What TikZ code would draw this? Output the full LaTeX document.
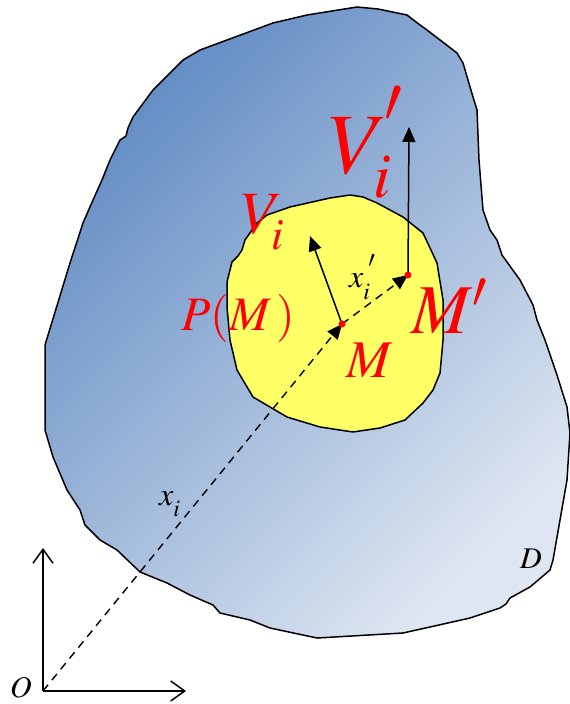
\documentclass[tikz,border=0pt]{standalone}
\usepackage{mathptmx}
\usetikzlibrary{arrows.meta}

\definecolor{regionDark}{RGB}{98,140,196}
\definecolor{regionLight}{RGB}{222,230,241}
\definecolor{subYellow}{RGB}{255,255,102}

\begin{document}
\begin{tikzpicture}[x=1pt, y=-1pt,
  >={Triangle[length=15pt,width=13pt]},
  outline/.style={draw=black, line width=1.5pt, line join=round},
  redlbl/.style={text=red, inner sep=0pt, anchor=base west},
  blklbl/.style={text=black, inner sep=0pt, anchor=base west},
  vec/.style={->, line width=1.5pt},
  ray/.style={->, line width=1.4pt, dash pattern=on 8pt off 6pt},
  axis/.style={-{Straight Barb[length=14pt,width=20pt,line width=1.5pt]}, line width=1.8pt}
]
  \useasboundingbox (0,0) rectangle (570,704);

  % region D
  \path[outline, top color=regionDark, bottom color=regionLight, shading angle=45]
    (357,7) -- (378,9) -- (407,15) -- (420,25) -- (427,30) -- (457,53) -- (463,63)
    -- (473,97) -- (477,110) -- (479,160) -- (483,210) -- (490,230) -- (497,240)
    -- (502,255) -- (520,280) -- (533,305) -- (537,320) -- (545,340) -- (557,375)
    -- (567,407) -- (570,433) -- (567,480) -- (560,520) -- (553,560) -- (550,570)
    -- (530,587) -- (510,598) -- (506,604) -- (500,608) -- (470,618) -- (430,627)
    -- (403,633) -- (317,638) -- (270,628) -- (250,620) -- (220,613) -- (213,605)
    -- (190,595) -- (167,583) -- (140,572) -- (117,550) -- (100,540) -- (85,525)
    -- (80,510) -- (67,490) -- (53,457) -- (45,430) -- (45,345) -- (70,263)
    -- (83,223) -- (93,200) -- (102,180) -- (110,160) -- (120,140) -- (126,136)
    -- (128,128) -- (133,117) -- (153,90) -- (183,60) -- (200,50) -- (273,23)
    -- (307,15) -- cycle;

  % sub-region
  \path[outline, fill=subYellow]
    (350,195) -- (363,197) -- (377,203) -- (403,217) -- (423,233) -- (437,263)
    -- (443,300) -- (443,340) -- (440,373) -- (433,390) -- (423,403) -- (405,420)
    -- (380,428) -- (353,432) -- (320,427) -- (287,417) -- (253,397) -- (237,370)
    -- (230,340) -- (227,307) -- (227,282) -- (232,262) -- (238,256) -- (242,250)
    -- (245,240) -- (257,223) -- (267,215) -- (290,207) -- (330,198) -- cycle;

  \coordinate (O) at (43,691);
  \coordinate (Oy) at (43,548);
  \coordinate (Ox) at (186,691);
  \coordinate (M) at (342,324);
  \coordinate (Mp) at (408,275);
  \coordinate (Vi) at (310,236);
  \coordinate (Vip) at (409,127);

  \draw[ray] (O) -- (M);
  \draw[ray] (M) -- (Mp);
  \draw[vec] (M) -- (Vi);
  \draw[vec] (Mp) -- (Vip);
  \draw[axis] (O) -- (Oy);
  \draw[axis] (O) -- (Ox);
  \fill[red] (M) circle (3.5pt);
  \fill[red] (Mp) circle (3.5pt);

  \node[redlbl, font=\fontsize{86}{88}\selectfont] (lVip) at (329,173)
    {$V_{\lower0.04em\hbox{$\scriptstyle i$}}^{\kern-0.04em\raise0.24em\hbox{$\scriptstyle\prime$}}$};
  \node[redlbl, font=\fontsize{60}{62}\selectfont] (lVi) at (241,233)
    {$V_{\lower0.12em\hbox{$\scriptstyle i$}}$};
  \node[redlbl, font=\fontsize{48}{50}\selectfont] (lP) at (181,330) {$P(M\,)$};
  \node[redlbl, font=\fontsize{53}{55}\selectfont] (lM) at (346,377) {$M$};
  \node[redlbl, font=\fontsize{70}{72}\selectfont] (lMp) at (411,333) {$M'$};
  \node[blklbl, font=\fontsize{32}{34}\selectfont] (lxp) at (349,287)
    {$x_{\lower0.15em\hbox{$\scriptstyle i$}}^{\kern0.15em\raise0.25em\hbox{$\scriptstyle\prime$}}$};
  \node[blklbl, font=\fontsize{32}{34}\selectfont] (lx) at (159,505)
    {$x_{\lower0.2em\hbox{$\scriptstyle i$}}$};
  \node[blklbl, font=\fontsize{30}{32}\selectfont] (lD) at (520,568) {$D$};
  \node[blklbl, font=\fontsize{30}{32}\selectfont] (lO) at (10,697) {$O$};
\end{tikzpicture}
\end{document}
